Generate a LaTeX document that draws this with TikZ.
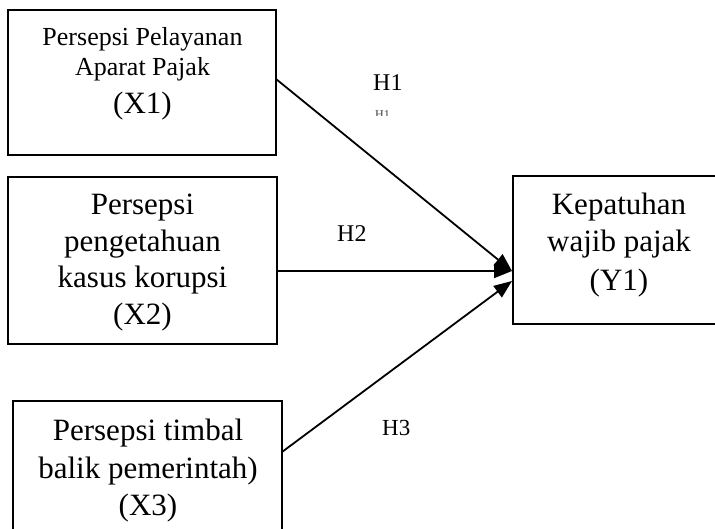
\documentclass[tikz,border=0pt]{standalone}
\usepackage{fontspec}
\setmainfont{Liberation Serif}
\usetikzlibrary{arrows.meta}
\tikzset{
  box/.style={draw, line width=1.9pt, inner sep=0pt, outer sep=0pt},
  big/.style={anchor=base, inner sep=0pt, font=\fontsize{31}{37}\selectfont},
  small/.style={anchor=base, inner sep=0pt, font=\fontsize{26}{30}\selectfont},
  hyp/.style={anchor=base west, inner sep=0pt, font=\fontsize{24}{28}\selectfont},
  link/.style={line width=1.8pt, -{Triangle[length=18pt,width=14pt]}}
}
\begin{document}
\begin{tikzpicture}[x=1pt,y=-1pt]
\useasboundingbox (0,0) rectangle (715,529);
\fill[white] (0,0) rectangle (715,529);
\clip (0,0) rectangle (715,529);

% boxes
\node[box, minimum width=268pt, minimum height=145pt] (x1) at (142,82.5) {};
\node[box, minimum width=269pt, minimum height=167pt] (x2) at (142.5,260.5) {};
\node[box, minimum width=269pt, minimum height=160pt] (x3) at (147.5,481) {};
\node[box, minimum width=247pt, minimum height=148pt] (y1) at (636.5,250) {};

% box texts
\node[small] (x1a) at (142.5,46) {Persepsi Pelayanan};
\node[small] (x1b) at (142.5,76) {Aparat Pajak};
\node[big]   (x1c) at (142.5,114) {(X1)};

\node[big] (x2a) at (142.5,215) {Persepsi};
\node[big] (x2b) at (142.5,252) {pengetahuan};
\node[big] (x2c) at (142.5,288) {kasus korupsi};
\node[big] (x2d) at (142.5,325) {(X2)};

\node[big] (x3a) at (148,440) {Persepsi timbal};
\node[big] (x3b) at (148,478) {balik pemerintah)};
\node[big] (x3c) at (148,515) {(X3)};

\node[big] (y1a) at (619,215) {Kepatuhan};
\node[big] (y1b) at (619,252) {wajib pajak};
\node[big] (y1c) at (619,291) {(Y1)};

% hypothesis labels
\node[hyp] (h1) at (373,91) {H1};
\node[hyp] (h2) at (337,242) {H2};
\node[hyp, font=\fontsize{23}{27}\selectfont] (h3) at (382,435) {H3};
\begin{scope}
  \clip (370,105) rectangle (395,115.5);
  \node[anchor=base west, inner sep=0pt, text=black!75,
        font=\fontsize{12}{12}\selectfont] (h1s) at (375,118.5) {H1};
\end{scope}

% paths
\draw[link] ([yshift=3.5pt]x1.east) -- ([yshift=-21pt,xshift=-1pt]y1.west);
\draw[link] ([yshift=-10.5pt]x2.east) -- ([yshift=-21pt,xshift=-1pt]y1.west);
\draw[link] ([yshift=29pt]x3.east) -- ([yshift=-31pt,xshift=-1pt]y1.west);
\end{tikzpicture}
\end{document}
